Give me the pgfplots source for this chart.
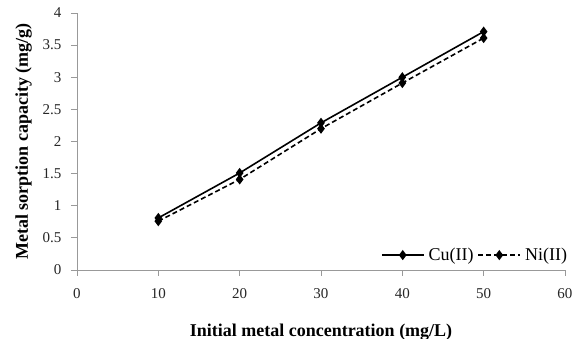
\documentclass[border=0pt]{standalone}
\usepackage{fontspec}
\setmainfont{Liberation Serif}
\usepackage{pgfplots}
\pgfplotsset{compat=1.18}
\begin{document}
\begin{tikzpicture}
\begin{axis}[
  scale only axis,
  width=488pt, height=257pt,
  xmin=0, xmax=60, ymin=0, ymax=4,
  xtick={0,10,...,60},
  ytick={0,0.5,...,4},
  yticklabels={0,0.5,1,1.5,2,2.5,3,3.5,4},
  axis x line*=bottom, axis y line*=left,
  axis line style={draw=gray!80, line width=0.8pt, -},
  tick style={draw=gray!80, line width=0.8pt},
  tick align=outside,
  major tick length=6pt,
  /pgf/number format/assume math mode=true,
  ticklabel style={font=\fontsize{15}{17}\selectfont, text=black!85},
  yticklabel style={xshift=-6pt},
  xticklabel style={yshift=-9pt},
  xlabel={\textbf{Initial metal concentration (mg/L)}},
  ylabel={\textbf{Metal sorption capacity (mg/g)}},
  label style={font=\fontsize{18}{20}\selectfont},
  xlabel style={yshift=-18pt},
  ylabel style={yshift=4pt},
  legend columns=2,
  legend style={at={(1.015,0.058)}, anchor=east, draw=none, fill=none,
    font=\fontsize{18}{20}\selectfont, column sep=2pt},
  legend image code/.code={\draw[#1, mark repeat=2, mark phase=2] plot coordinates {(0pt,0pt) (21pt,0pt) (42pt,0pt)};},
]
\addplot[black, line width=1.6pt, mark=diamond*, mark size=3.8pt, mark options={solid}]
  coordinates {(10,0.81) (20,1.51) (30,2.29) (40,3.00) (50,3.71)};
\addlegendentry{Cu(II)}
\addplot[black, line width=1.6pt, dash pattern=on 5pt off 3pt, mark=diamond*, mark size=3.8pt, mark options={solid}]
  coordinates {(10,0.76) (20,1.41) (30,2.20) (40,2.91) (50,3.61)};
\addlegendentry{Ni(II)}
\end{axis}
\pgfresetboundingbox
\path (-77pt,-69pt) rectangle (507pt,270pt);
\end{tikzpicture}
\end{document}
